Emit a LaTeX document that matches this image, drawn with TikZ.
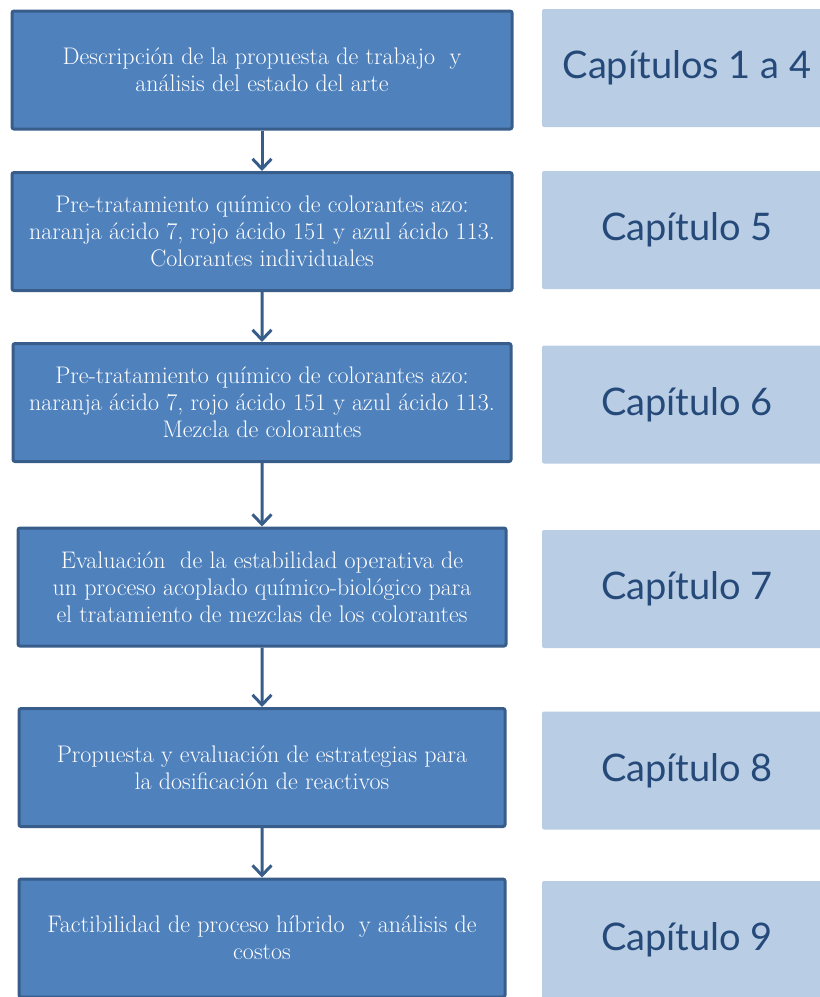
\documentclass[tikz,border=0pt]{standalone}
\usepackage{fontspec}
\newfontfamily\capfont{Lato}
\usepackage{xcolor}
\usepackage{tikz}
\usetikzlibrary{trees,arrows.meta}
\definecolor{azulcaja}{HTML}{4F81BD}
\definecolor{azulborde}{HTML}{385D8A}
\definecolor{azulclaro}{HTML}{B9CDE5}
\definecolor{azultexto}{HTML}{254A7A}

\begin{document}
\begin{tikzpicture}[%
	x=1pt,y=1pt,
	grow=down,
	level 1/.style={level distance=161.5pt},
	level 2/.style={level distance=171pt},
	level 3/.style={level distance=184.5pt},
	level 4/.style={level distance=180.5pt},
	level 5/.style={level distance=170.5pt},
	edge from parent/.style={draw=azulborde,line width=3pt,-{Straight Barb[length=10pt,width=19pt,line width=3pt]}},
	paso/.style={fill=azulcaja,draw=azulborde,line width=3pt,rounded corners=2pt,
		minimum height=118pt,inner sep=0pt,text=white,align=center,
		font=\fontsize{24}{27}\selectfont},
	capitulo/.style={fill=azulclaro,rounded corners=2pt,minimum width=290pt,
		minimum height=118pt,inner sep=0pt,text=azultexto,
		font=\capfont\fontsize{38}{40}\selectfont}]
	\useasboundingbox (0,0) rectangle (820,-997);
	\node[paso,minimum width=500pt] (p1) at (262,-70) {Descripción de la propuesta de trabajo~ y\\análisis del estado del arte}
	child { node[paso,minimum width=500pt] (p2) {Pre-tratamiento químico de colorantes azo:\\naranja ácido 7, rojo ácido 151 y azul ácido 113.\\Colorantes individuales}
		child { node[paso,minimum width=498pt] (p3) {Pre-tratamiento químico de colorantes azo:\\naranja ácido 7, rojo ácido 151 y azul ácido 113.\\Mezcla de colorantes}
			child { node[paso,minimum width=488pt] (p4) {Evaluación~ de la estabilidad operativa de\\un proceso acoplado químico-biológico para\\el tratamiento de mezclas de los colorantes}
				child { node[paso,minimum width=486pt] (p5) {Propuesta y evaluación de estrategias para\\la dosificación de reactivos}
					child { node[paso,minimum width=486pt] (p6) {Factibilidad de proceso híbrido~ y análisis de\\costos}}
				}
			}
		}
	};
	\node[capitulo] (c1) at (687,-68) {Capítulos 1 a 4};
	\node[capitulo] (c2) at (687,-230) {Capítulo 5};
	\node[capitulo] (c3) at (687,-404.5) {Capítulo 6};
	\node[capitulo] (c4) at (687,-589) {Capítulo 7};
	\node[capitulo] (c5) at (687,-770.5) {Capítulo 8};
	\node[capitulo] (c6) at (687,-940) {Capítulo 9};
\end{tikzpicture}
\end{document}
